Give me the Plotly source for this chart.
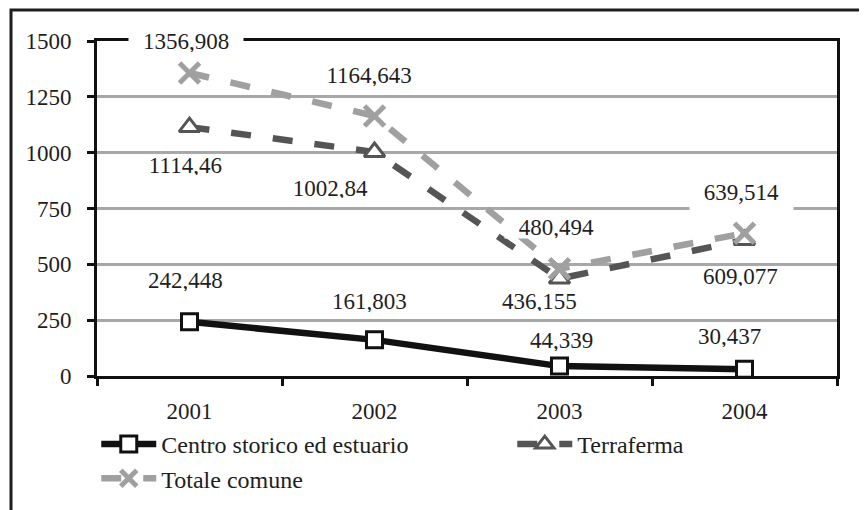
import plotly.graph_objects as go

# ---------------- data ----------------
years = ["2001", "2002", "2003", "2004"]
centro = [242.448, 161.803, 44.339, 30.437]
terraferma = [1114.46, 1002.84, 436.155, 609.077]
totale = [1356.908, 1164.643, 480.494, 639.514]
series_names = ["Centro storico ed estuario", "Terraferma", "Totale comune"]
y_ticks = [0, 250, 500, 750, 1000, 1250, 1500]

# ---------------- style ----------------
FONT = "Liberation Serif, Times New Roman, serif"
FS = 23
TXT = "#1e1e1e"

# label offsets in px (xshift, yshift) per point
centro_off = [(-4, 41), (-5, 38), (2, 26), (-15, 33)]
terra_off = [(-4, -38), (-44, -36), (-20, -23), (-4, -37)]
totale_off = [(-4, 32), (-6, 40), (-3, 41), (-3, 37)]
# label box (height, valign) per point
centro_box = [(21, "middle")] * 4
terra_box = [(19, "middle")] * 4
totale_box = [(22, "middle"), (21, "middle"), (21, "middle"), (32, "top")]


def fmt(v):
    return str(v).replace(".", ",")


fig = go.Figure()

fig.add_trace(go.Scatter(
    x=years, y=centro, name=series_names[0], mode="lines+markers",
    line=dict(color="#111111", width=6.5),
    marker=dict(symbol="square", size=16, color="white",
                line=dict(color="#111111", width=3)),
))
fig.add_trace(go.Scatter(
    x=years, y=terraferma, name=series_names[1], mode="lines+markers",
    line=dict(color="#555555", width=6.5, dash="20px,22px"),
    marker=dict(symbol="triangle-up", size=18, color="white",
                line=dict(color="#555555", width=3)),
))
fig.add_trace(go.Scatter(
    x=years, y=totale, name=series_names[2], mode="lines+markers",
    line=dict(color="#a0a0a0", width=6.5, dash="20px,22px"),
    marker=dict(symbol="x-thin", size=20, color="#a0a0a0",
                line=dict(color="#a0a0a0", width=5)),
))

annotations = []
for vals, offs, boxes in ((centro, centro_off, centro_box),
                          (terraferma, terra_off, terra_box),
                          (totale, totale_off, totale_box)):
    for i, (v, (dx, dy), (bh, va)) in enumerate(zip(vals, offs, boxes)):
        t = fmt(v)
        w = sum(5.75 if c == "," else 11.5 for c in t) + 28
        annotations.append(dict(
            x=i, y=v, xref="x", yref="y", text=t, showarrow=False,
            xshift=dx, yshift=dy, bgcolor="white", borderpad=0,
            width=w, height=bh, valign=va,
            font=dict(family=FONT, size=FS, color=TXT),
        ))

# pixel -> paper helpers (plot area spans 740 x 335 px)
px0, px1, py0, py1 = 97, 837, 376, 41
def pxx(p):
    return (p - px0) / (px1 - px0)
def pxy(p):
    return (py0 - p) / (py0 - py1)

shapes = [dict(type="rect", xref="paper", yref="paper",
               x0=pxx(11), x1=pxx(880), y0=pxy(530), y1=pxy(10),
               line=dict(color="#1e1e1e", width=3), fillcolor="rgba(0,0,0,0)",
               layer="below")]

fig.update_layout(
    width=867, height=510,
    margin=dict(l=89, r=38, t=33, b=142, autoexpand=False),
    paper_bgcolor="white", plot_bgcolor="white",
    font=dict(family=FONT, size=FS, color=TXT),
    annotations=annotations,
    shapes=shapes,
    showlegend=True,
    legend=dict(
        orientation="h", xref="paper", yref="paper",
        x=-0.001, y=pxy(422), xanchor="left", yanchor="top",
        entrywidth=346, entrywidthmode="pixels", itemwidth=55,
        font=dict(family=FONT, size=24, color=TXT),
        bgcolor="rgba(0,0,0,0)", traceorder="normal",
    ),
    xaxis=dict(
        type="category", range=[-0.5, 3.5], showgrid=False, showline=True,
        linecolor="#111111", linewidth=3, mirror=True, ticks="outside",
        ticklen=7, tickwidth=3, tickcolor="#111111", tickson="boundaries",
        ticklabelstandoff=12, tickangle=0,
        tickfont=dict(family=FONT, size=FS, color=TXT), zeroline=False,
        fixedrange=True,
    ),
    yaxis=dict(
        range=[0, 1500], tickvals=y_ticks, ticktext=[str(v) for v in y_ticks],
        showgrid=True, gridcolor="#a8a8a8", gridwidth=2.5,
        showline=True, linecolor="#111111", linewidth=3, mirror=True,
        ticks="outside", ticklen=7, tickwidth=3, tickcolor="#111111",
        ticklabelstandoff=11, zeroline=False,
        tickfont=dict(family=FONT, size=FS, color=TXT), fixedrange=True,
    ),
)

fig.write_html("out.html")
